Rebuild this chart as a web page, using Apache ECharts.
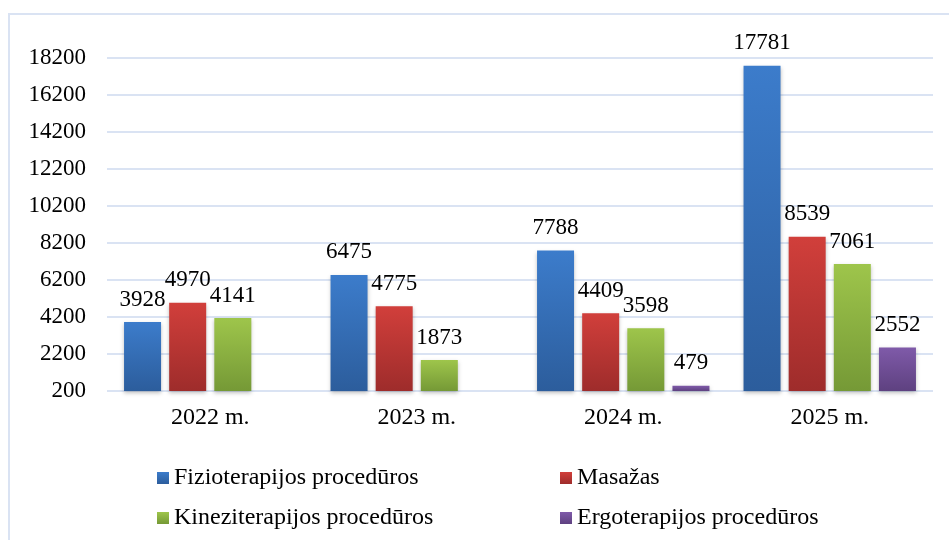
<!DOCTYPE html>
<html>
<head>
<meta charset="utf-8">
<script src="https://cdn.jsdelivr.net/npm/echarts@6/dist/echarts.min.js"></script>
<style>
  html, body { margin: 0; padding: 0; background: #fff; }
  #chart { width: 949px; height: 540px; }
</style>
</head>
<body>
<div id="chart"></div>
<script>
// procedūrų skaičius pagal metus
const years = ['2022 m.', '2023 m.', '2024 m.', '2025 m.']
const fizio = [3928, 6475, 7788, 17781]
const masazas = [4970, 4775, 4409, 8539]
const kinezi = [4141, 1873, 3598, 7061]
const ergo = [null, null, 479, 2552]
const yMin = 200
const yMax = 18200
const yStep = 2000

const FONT = 'Liberation Serif'

const grad = (top, bottom) => new echarts.graphic.LinearGradient(0, 0, 0, 1, [
  {offset: 0, color: top},
  {offset: 1, color: bottom}
])

const makeSeries = (name, data, top, bottom) => ({
  name: name,
  type: 'bar',
  barWidth: 37,
  barGap: '22%',
  data: data,
  itemStyle: {
    color: grad(top, bottom),
    shadowColor: 'rgba(0,0,0,0.25)',
    shadowBlur: 4,
    shadowOffsetY: 2
  },
  label: {
    show: true,
    position: 'top',
    distance: 11,
    color: '#000',
    fontFamily: FONT,
    fontSize: 23
  }
})

const legendText = {color: '#000', fontFamily: FONT, fontSize: 24}

const option = {
  animation: false,
  graphic: [{
    type: 'rect',
    shape: {x: 9, y: 14, width: 960, height: 560},
    style: {fill: 'none', stroke: '#dae3f3', lineWidth: 2},
    silent: true
  }],
  grid: {left: 107, right: 16, top: 58, bottom: 149},
  legend: [
    {
      orient: 'vertical',
      left: 152,
      top: 461,
      itemWidth: 12,
      itemHeight: 12,
      itemGap: 16,
      icon: 'rect',
      textStyle: legendText,
      data: ['Fizioterapijos procedūros', 'Kineziterapijos procedūros']
    },
    {
      orient: 'vertical',
      left: 555,
      top: 461,
      itemWidth: 12,
      itemHeight: 12,
      itemGap: 16,
      icon: 'rect',
      textStyle: legendText,
      data: ['Masažas', 'Ergoterapijos procedūros']
    }
  ],
  xAxis: {
    type: 'category',
    data: years,
    axisLine: {show: false},
    axisTick: {show: false},
    axisLabel: {color: '#000', fontFamily: FONT, fontSize: 24, margin: 15}
  },
  yAxis: {
    type: 'value',
    min: yMin,
    max: yMax,
    interval: yStep,
    axisLine: {show: false},
    axisTick: {show: false},
    splitLine: {lineStyle: {color: '#dae3f3', width: 2}},
    axisLabel: {
      color: '#000',
      fontFamily: FONT,
      fontSize: 23,
      margin: 21,
      formatter: (v) => String(v)
    }
  },
  series: [
    makeSeries('Fizioterapijos procedūros', fizio, '#3c7ccb', '#2c5d9c'),
    makeSeries('Masažas', masazas, '#d13f3b', '#9e2c2b'),
    makeSeries('Kineziterapijos procedūros', kinezi, '#9ec54b', '#759936'),
    makeSeries('Ergoterapijos procedūros', ergo, '#7f5aa9', '#5e4180')
  ]
}

const mychart = echarts.init(document.getElementById('chart'))
mychart.setOption(option)
</script>
</body>
</html>
